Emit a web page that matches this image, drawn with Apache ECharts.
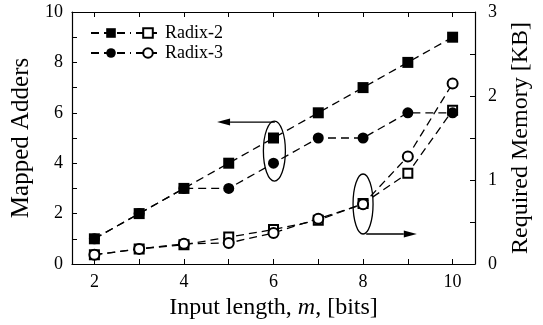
<!DOCTYPE html>
<html>
<head>
<meta charset="utf-8">
<script src="https://cdn.jsdelivr.net/npm/echarts@6/dist/echarts.min.js"></script>
<style>
  html, body { margin: 0; padding: 0; background: #fff; }
  #chart { width: 543px; height: 325px; }
</style>
</head>
<body>
<div id="chart"></div>
<script>
const inputLength = [2, 3, 4, 5, 6, 7, 8, 9, 10];
const radix2Adders = [1, 2, 3, 4, 5, 6, 7, 8, 9];
const radix3Adders = [1, 2, 3, 3, 4, 5, 5, 6, 6];
const radix2Memory = [0.11, 0.18, 0.23, 0.32, 0.41, 0.52, 0.72, 1.08, 1.83];
const radix3Memory = [0.11, 0.18, 0.24, 0.25, 0.37, 0.54, 0.71, 1.28, 2.15];
const xTicks = [2, 3, 4, 5, 6, 7, 8, 9, 10];
const xLabels = [2, 4, 6, 8, 10];
const leftTicks = [0, 1, 2, 3, 4, 5, 6, 7, 8, 9, 10];
const leftLabels = [0, 2, 4, 6, 8, 10];
const rightTicks = [0, 0.5, 1, 1.5, 2, 2.5, 3];
const rightLabels = [0, 1, 2, 3];

const font = 'Liberation Serif';
const black = '#000';

const pairs = (ys) => inputLength.map((x, i) => [x, ys[i]]);

const baseLine = { color: black, width: 1.3, type: [8, 5] };

const axisCommon = {
  axisLine: { show: true, onZero: false, lineStyle: { color: black, width: 1.2 } },
  splitLine: { show: false },
  axisTick: { inside: true, length: 5, lineStyle: { color: black, width: 1 } }
};

const chart = echarts.init(document.getElementById('chart'));

const option = {
  animation: false,
  backgroundColor: '#fff',
  grid: { left: 72, right: 68, top: 12, bottom: 61 },
  legend: [
    {
      left: 85, top: 19, orient: 'vertical', itemGap: 2,
      itemWidth: 40, itemHeight: 12, selectedMode: false,
      data: ['Radix-2', 'Radix-3'],
      formatter: () => ' ',
      textStyle: { fontFamily: font, fontSize: 18 }
    },
    {
      left: 130, top: 19, orient: 'vertical', itemGap: 2,
      itemWidth: 24, itemHeight: 12, selectedMode: false,
      data: ['Radix-2 memory', 'Radix-3 memory'],
      formatter: (name) => name.replace(' memory', ''),
      textStyle: { fontFamily: font, fontSize: 18, color: black }
    }
  ],
  xAxis: [
    Object.assign({}, axisCommon, {
      type: 'value', min: 1.5, max: 10.5, position: 'bottom',
      axisTick: Object.assign({}, axisCommon.axisTick, { customValues: xTicks }),
      axisLabel: { customValues: xLabels, color: black, fontFamily: font, fontSize: 18, margin: 9 },
      name: 'Input length, {i|m}, [bits]',
      nameLocation: 'middle', nameGap: 23,
      nameTextStyle: {
        color: black, fontFamily: font, fontSize: 24,
        rich: { i: { fontFamily: font, fontSize: 24, fontStyle: 'italic', color: black } }
      }
    }),
    Object.assign({}, axisCommon, {
      type: 'value', min: 1.5, max: 10.5, position: 'top',
      axisTick: Object.assign({}, axisCommon.axisTick, { customValues: xTicks }),
      axisLabel: { show: false }
    })
  ],
  yAxis: [
    Object.assign({}, axisCommon, {
      type: 'value', min: 0, max: 10, position: 'left',
      axisTick: Object.assign({}, axisCommon.axisTick, { customValues: leftTicks }),
      axisLabel: { customValues: leftLabels, color: black, fontFamily: font, fontSize: 18, margin: 9 },
      name: 'Mapped Adders', nameLocation: 'middle', nameGap: 38,
      nameTextStyle: { color: black, fontFamily: font, fontSize: 25 }
    }),
    Object.assign({}, axisCommon, {
      type: 'value', min: 0, max: 3, position: 'right',
      axisTick: Object.assign({}, axisCommon.axisTick, { customValues: rightTicks }),
      axisLabel: { customValues: rightLabels, color: black, fontFamily: font, fontSize: 18, margin: 13 },
      name: 'Required Memory [KB]', nameLocation: 'middle', nameGap: 34,
      nameRotate: 90,
      nameTextStyle: { color: black, fontFamily: font, fontSize: 24 }
    })
  ],
  series: [
    {
      name: 'Radix-2 memory', type: 'line', yAxisIndex: 1, data: pairs(radix2Memory),
      symbol: 'emptyRect', symbolSize: 9, lineStyle: baseLine,
      itemStyle: { color: black, borderWidth: 1 }, z: 2
    },
    {
      name: 'Radix-3 memory', type: 'line', yAxisIndex: 1, data: pairs(radix3Memory),
      symbol: 'emptyCircle', symbolSize: 10, lineStyle: baseLine,
      itemStyle: { color: black, borderWidth: 1 }, z: 3
    },
    {
      name: 'Radix-2', type: 'line', yAxisIndex: 0, data: pairs(radix2Adders),
      symbol: 'rect', symbolSize: 11, lineStyle: baseLine,
      itemStyle: { color: black }, z: 4
    },
    {
      name: 'Radix-3', type: 'line', yAxisIndex: 0, data: pairs(radix3Adders),
      symbol: 'circle', symbolSize: 11, lineStyle: baseLine,
      itemStyle: { color: black }, z: 5
    }
  ]
};

chart.setOption(option);

// annotation ellipses and arrows, placed in data coordinates
const px = (x, y) => chart.convertToPixel({ xAxisIndex: 0, yAxisIndex: 0 }, [x, y]);

function arrow(from, to) {
  const a = px(from[0], from[1]);
  const b = px(to[0], to[1]);
  const dir = Math.sign(b[0] - a[0]);
  const head = 13;
  return [
    { type: 'line', shape: { x1: a[0], y1: a[1], x2: b[0] - dir * head, y2: b[1] },
      style: { stroke: black, lineWidth: 1.3 }, z: 10 },
    { type: 'polygon', shape: { points: [[b[0], b[1]], [b[0] - dir * head, b[1] - 3.5], [b[0] - dir * head, b[1] + 3.5]] },
      style: { fill: black }, z: 10 }
  ];
}

function ring(cx, cy, rx, ry) {
  const c = px(cx, cy);
  return { type: 'ellipse', shape: { cx: c[0], cy: c[1], rx: rx, ry: ry },
    style: { fill: 'none', stroke: black, lineWidth: 1.3 }, z: 10 };
}

chart.setOption({
  graphic: [
    ring(6.02, 4.48, 11, 30),
    ring(8.0, 2.38, 10, 30),
    ...arrow([6.03, 5.63], [4.74, 5.63]),
    ...arrow([8.07, 1.19], [9.2, 1.19])
  ]
});
</script>
</body>
</html>
